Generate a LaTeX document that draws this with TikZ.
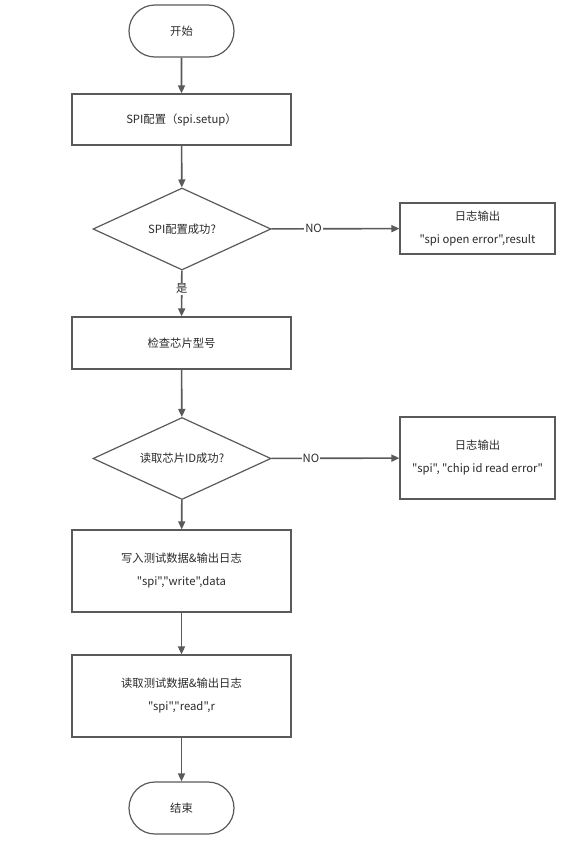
\documentclass[tikz,border=0pt]{standalone}
\usepackage{fontspec}
\newfontfamily\flowFont{Noto Sans CJK SC}
\usetikzlibrary{shapes.geometric,shapes.misc,arrows.meta}
\definecolor{lineColor}{HTML}{5A5A5A}
\definecolor{textColor}{HTML}{2B2B2B}
\tikzstyle{flowChart} = [x = 1pt, y = -1pt, font=\flowFont\fontsize{11.3}{23}\selectfont, text=textColor]
\tikzstyle{terminalStyle} = [draw=lineColor, rounded rectangle, line width=1.2pt, minimum width=105pt, minimum height=52pt, inner sep=0pt]
\tikzstyle{processStyle} = [draw=lineColor, rectangle, line width=1.2pt, minimum width=219pt, align=center, inner sep=0pt]
\tikzstyle{logStyle} = [draw=lineColor, rectangle, line width=1.2pt, minimum width=155pt, align=center, inner sep=0pt]
\tikzstyle{decisionStyle} = [draw=lineColor, diamond, aspect=2.17, line width=1.2pt, minimum width=178pt, minimum height=82pt, inner sep=0pt]
\tikzstyle{flowLine} = [draw=lineColor, line width=1.6pt, -{Triangle[length=8pt,width=7pt]}]
\tikzstyle{lineLabel} = [fill=white, inner sep=1pt, midway]
\begin{document}
\begin{tikzpicture}[flowChart]
  \useasboundingbox [fill=white] (0,0) rectangle (578,841);
  % main column
  \node [terminalStyle] (start) at (181.5,31) {开始};
  \node [processStyle, minimum height=51pt] (setup) at (181.5,119.5) {SPI配置（spi.setup）};
  \node [decisionStyle] (setupOk) at (182,229) {SPI配置成功?};
  \node [processStyle, minimum height=52pt] (checkChip) at (181.5,343) {检查芯片型号};
  \node [decisionStyle] (readId) at (182,458.5) {读取芯片ID成功?};
  \node [processStyle, minimum height=82pt] (writeData) at (181.5,571) {写入测试数据\&输出日志\\"spi","write",data};
  \node [processStyle, minimum height=82pt] (readData) at (181.5,696) {读取测试数据\&输出日志\\"spi","read",r};
  \node [terminalStyle] (stop) at (181.5,808) {结束};
  % log boxes
  \node [logStyle, minimum height=51pt] (setupLog) at (477.5,228.5) {日志输出\\"spi open error",result};
  \node [logStyle, minimum height=82pt] (idLog) at (477.5,458) {日志输出\\"spi", "chip id read error"};
  % connectors
  \draw [flowLine] (start) -- (setup);
  \draw [flowLine] (setup) -- (setupOk);
  \draw [flowLine] (setupOk) -- node [lineLabel, pos=0.4] {是} (checkChip);
  \draw [flowLine] (checkChip) -- (readId);
  \draw [flowLine] (readId) -- (writeData);
  \draw [flowLine] (writeData) -- (readData);
  \draw [flowLine] (readData) -- (stop);
  \draw [flowLine] (setupOk) -- node [lineLabel, pos=0.33] {NO} (setupLog);
  \draw [flowLine] (readId) -- node [lineLabel, pos=0.31] {NO} (idLog);
\end{tikzpicture}
\end{document}
